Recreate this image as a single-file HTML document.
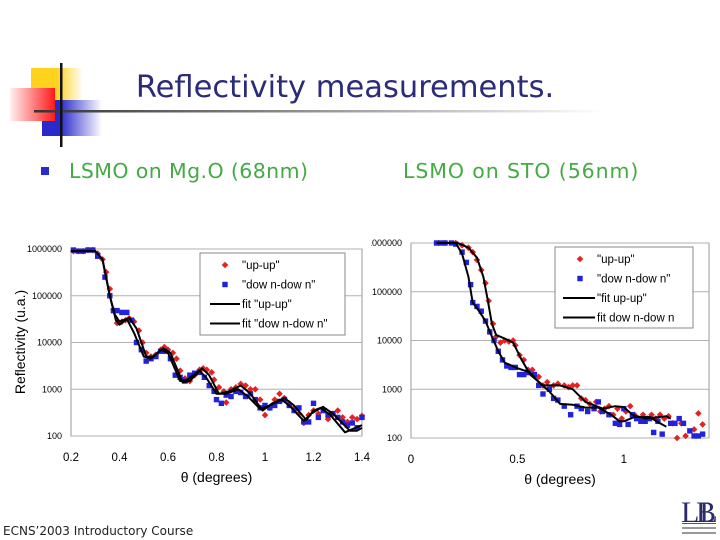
<!DOCTYPE html>
<html><head><meta charset="utf-8"><style>
html,body{margin:0;padding:0;background:#fff;}
#slide{position:relative;width:720px;height:540px;overflow:hidden;font-family:"Liberation Sans",sans-serif;}
</style></head><body>
<div id="slide">
<svg width="720" height="540" style="position:absolute;left:0;top:0">
<defs>
<linearGradient id="gy" x1="0" x2="1"><stop offset="0.5" stop-color="#ffd21e"/><stop offset="1" stop-color="#fff"/></linearGradient>
<linearGradient id="gr" x1="1" x2="0"><stop offset="0" stop-color="#ff1a1a"/><stop offset="1" stop-color="#fff0f0"/></linearGradient>
<linearGradient id="gb" x1="0" x2="1"><stop offset="0.3" stop-color="#2a2acc"/><stop offset="1" stop-color="#fff"/></linearGradient>
<linearGradient id="gl" x1="0" x2="1"><stop offset="0" stop-color="#333"/><stop offset="0.6" stop-color="#aaa"/><stop offset="1" stop-color="#fff"/></linearGradient>
<clipPath id="clipR"><rect x="371" y="230" width="349" height="260"/></clipPath>
</defs>
<g>
<rect x="31" y="68" width="52" height="34" fill="url(#gy)"/>
<rect x="42" y="100" width="60" height="36" fill="url(#gb)"/>
<rect x="10" y="88" width="45" height="33" fill="url(#gr)"/>
<rect x="34" y="110" width="570" height="2.5" fill="url(#gl)"/>
<rect x="60" y="63" width="2.5" height="84" fill="#111"/>
</g>
<text x="345" y="97" text-anchor="middle" font-family="'DejaVu Sans',sans-serif" font-size="30.5" fill="#2b2b7a">Reflectivity measurements.</text>
<rect x="41" y="167" width="8" height="8" fill="#2a2acc"/>
<text x="69" y="178" font-family="'DejaVu Sans',sans-serif" font-size="20.5" letter-spacing="0.4" fill="#44aa44">LSMO on Mg.O (68nm)</text>
<text x="403" y="178" font-family="'DejaVu Sans',sans-serif" font-size="20.5" letter-spacing="0.9" fill="#44aa44">LSMO on STO (56nm)</text>
<text x="3" y="535" font-family="'DejaVu Sans',sans-serif" font-size="12" fill="#222">ECNS’2003 Introductory Course</text>
<g>
<text x="681" y="522" font-family="'Liberation Serif',serif" font-size="30" fill="#2b2b6a">LL</text>
<text x="696" y="522" font-family="'Liberation Serif',serif" font-size="30" fill="#2b2b6a">B</text>
<rect x="682" y="523" width="34" height="1" fill="#a33"/>
<rect x="682" y="527" width="34" height="2" fill="#999"/>
<rect x="682" y="532" width="34" height="2" fill="#999"/>
</g>
<g id="chartL"></g>
<g id="chartR" clip-path="url(#clipR)"></g>
</svg>
</div>
<script>
const L_upX=[0.21,0.23,0.25,0.27,0.29,0.31,0.33,0.345,0.36,0.375,0.39,0.41,0.425,0.44,0.46,0.48,0.495,0.51,0.53,0.55,0.57,0.585,0.6,0.62,0.635,0.65,0.67,0.69,0.71,0.73,0.745,0.76,0.78,0.79,0.81,0.83,0.84,0.86,0.88,0.9,0.92,0.94,0.96,0.98,1.0,1.02,1.04,1.06,1.08,1.1,1.12,1.14,1.16,1.18,1.2,1.22,1.24,1.26,1.28,1.3,1.32,1.34,1.36,1.38,1.4];
const L_upY=[9e5,9e5,9e5,9.5e5,9.5e5,8e5,6e5,3.2e5,1.4e5,5e4,2.6e4,2.8e4,3e4,3.3e4,2.8e4,1.8e4,1e4,6e3,5e3,5.5e3,7e3,8e3,7e3,6e3,4.5e3,2.5e3,1.7e3,1.5e3,2e3,2.6e3,2.8e3,2.6e3,2.3e3,1.6e3,1.1e3,900,520,1000,1100,1300,1200,1000,1000,600,280,400,600,800,650,500,400,300,190,280,350,300,380,230,300,350,250,200,250,230,270];
const L_dnX=[0.21,0.23,0.25,0.27,0.29,0.31,0.34,0.36,0.375,0.39,0.41,0.43,0.45,0.47,0.49,0.51,0.53,0.55,0.57,0.59,0.61,0.63,0.65,0.67,0.69,0.71,0.73,0.75,0.77,0.79,0.8,0.82,0.84,0.86,0.88,0.9,0.92,0.94,0.96,0.98,1.0,1.02,1.04,1.06,1.08,1.1,1.12,1.14,1.16,1.18,1.2,1.22,1.24,1.26,1.28,1.3,1.32,1.34,1.36,1.38,1.4];
const L_dnY=[9.5e5,9e5,9e5,9.5e5,9.5e5,7e5,2.5e5,1e5,4.8e4,4.8e4,4.4e4,4.4e4,3e4,1e4,7e3,4e3,4.5e3,5e3,6.5e3,6.5e3,4.5e3,2e3,1.8e3,1.5e3,2e3,2.2e3,2.3e3,1.8e3,1.2e3,900,600,500,750,700,900,850,700,800,600,400,450,400,450,550,600,450,350,400,200,200,500,250,350,280,300,250,200,170,190,150,250];
const L_fuX=[0.2,0.3,0.33,0.36,0.385,0.4,0.44,0.47,0.51,0.54,0.58,0.61,0.66,0.69,0.74,0.77,0.81,0.85,0.9,0.94,0.99,1.03,1.08,1.12,1.17,1.2,1.24,1.28,1.35,1.38,1.4];
const L_fuY=[9e5,9e5,6e5,1e5,3e4,2.4e4,3.4e4,2e4,5e3,5e3,7.5e3,6e3,1.4e3,1.5e3,2.8e3,2e3,800,900,1200,800,350,500,650,450,220,350,420,300,130,130,150];
const L_fdX=[0.2,0.3,0.33,0.36,0.38,0.4,0.43,0.46,0.5,0.53,0.57,0.6,0.65,0.68,0.73,0.76,0.8,0.84,0.89,0.93,0.98,1.02,1.07,1.11,1.16,1.19,1.23,1.27,1.33,1.36,1.4];
const L_fdY=[9e5,9e5,6e5,1e5,4e4,2.8e4,3.2e4,1.6e4,5e3,4.5e3,7e3,6e3,1.5e3,1.6e3,2.5e3,1.7e3,800,800,1000,700,380,450,600,400,210,300,400,280,120,140,170];
const L_xTicks=["0.2","0.4","0.6","0.8","1","1.2","1.4"];
const L_xTickVals=[0.2,0.4,0.6,0.8,1,1.2,1.4];
const L_legend=['"up-up"','"dow n-dow n"','fit "up-up"','fit "dow n-dow n"'];

const R_upX=[0.13,0.16,0.21,0.24,0.27,0.29,0.31,0.33,0.35,0.365,0.385,0.4,0.42,0.44,0.46,0.48,0.49,0.51,0.53,0.55,0.57,0.6,0.62,0.64,0.67,0.69,0.72,0.74,0.76,0.78,0.8,0.82,0.84,0.87,0.89,0.91,0.93,0.95,0.97,0.99,1.01,1.03,1.05,1.07,1.09,1.11,1.13,1.15,1.17,1.19,1.21,1.23,1.25,1.27,1.29,1.33,1.35,1.37];
const R_upY=[1e6,1e6,1e6,9e5,8e5,6.5e5,4.5e5,2.8e5,1.5e5,6.5e4,2.2e4,1.2e4,9e3,1e4,9.5e3,1e4,8e3,5e3,4e3,2.5e3,2.5e3,1.8e3,1.2e3,1.4e3,1.2e3,1.3e3,1.2e3,1.1e3,1.2e3,1.2e3,650,600,500,550,350,400,450,300,400,250,350,450,300,250,300,250,300,250,300,250,280,200,100,200,110,150,320,190];
const R_dnX=[0.12,0.14,0.16,0.19,0.21,0.24,0.26,0.28,0.29,0.31,0.33,0.35,0.37,0.39,0.41,0.43,0.45,0.47,0.49,0.51,0.53,0.55,0.58,0.6,0.62,0.65,0.67,0.69,0.72,0.75,0.78,0.8,0.83,0.86,0.88,0.9,0.93,0.96,0.98,1.0,1.02,1.04,1.06,1.08,1.1,1.12,1.14,1.16,1.18,1.22,1.24,1.26,1.28,1.31,1.33,1.35,1.37];
const R_dnY=[1e6,1e6,1e6,1e6,9.5e5,6.5e5,4e5,1.4e5,6e4,5e4,4e4,2.5e4,1.5e4,1e4,6e3,4e3,3e3,2.8e3,2.8e3,2e3,2e3,2.2e3,2e3,1.2e3,800,1e3,650,600,450,300,450,400,350,400,550,350,300,200,190,400,190,300,250,220,220,250,130,220,120,200,200,250,200,140,110,110,120];
const R_fuX=[0.12,0.22,0.27,0.31,0.34,0.36,0.38,0.4,0.44,0.48,0.52,0.56,0.62,0.7,0.76,0.82,0.9,0.96,1.0,1.04,1.1,1.2,1.22];
const R_fuY=[1e6,1e6,8e5,5e5,2e5,7e4,2.2e4,1.3e4,1.1e4,9e3,4e3,2e3,1.2e3,1.2e3,1e3,550,400,450,430,300,250,280,250];
const R_fdX=[0.12,0.21,0.24,0.27,0.29,0.32,0.35,0.38,0.41,0.44,0.5,0.56,0.6,0.65,0.7,0.76,0.82,0.88,0.94,0.98,1.0,1.05,1.12,1.17,1.2];
const R_fdY=[1e6,1e6,6e5,2e5,6e4,4e4,2.5e4,1.2e4,6e3,3.5e3,2.7e3,2.2e3,1.4e3,900,500,480,420,420,300,220,220,270,270,200,170];
const R_xTicks=["0","0.5","1"];
const R_xTickVals=[0,0.5,1];
const R_legend=['"up-up"','"dow n-dow n"','"fit up-up"','fit dow n-dow n'];
const yTicks=["1000000","100000","10000","1000","100"];
const yTickVals=[1e6,1e5,1e4,1e3,100];

const NS="http://www.w3.org/2000/svg";
function mk(parent,tag,attrs,text){const e=document.createElementNS(NS,tag);for(const k in attrs)e.setAttribute(k,attrs[k]);if(text!==undefined)e.textContent=text;parent.appendChild(e);return e;}

function drawChart(g,cfg){
  const sx=v=>cfg.x0+(v-cfg.xmin)/(cfg.xmax-cfg.xmin)*(cfg.x1-cfg.x0);
  const sy=v=>cfg.y0+(6-Math.log10(v))/4*(cfg.y1-cfg.y0);
  const bg=mk(g,'rect',{x:cfg.x0,y:cfg.y0,width:cfg.x1-cfg.x0,height:cfg.y1-cfg.y0,fill:'#fff',stroke:'#999','stroke-width':1});
  
  
  yTickVals.forEach((v,i)=>{
    const gl=mk(g,'line',{x1:cfg.x0,x2:cfg.x1,y1:sy(v),y2:sy(v),stroke:'#b0b0b0','stroke-width':1});
    
    
    const t=mk(g,'text',{x:cfg.x0-9,y:sy(v)+3,'text-anchor':'end','font-size':9,fill:'#000'},yTicks[i]);
    
    
  });
  cfg.xv.forEach((v,i)=>{
    const t=mk(g,'text',{x:sx(v),y:cfg.y1+25,'text-anchor':'middle','font-size':11.5,fill:'#000'},cfg.xl[i]);
    
    
  });
  const xt=mk(g,'text',{x:(cfg.x0+cfg.x1)/2+cfg.xtOff,y:cfg.y1+46,'text-anchor':'middle','font-size':14,fill:'#000'},'θ (degrees)');
  
  
  const line=(xs,ys,name)=>{
    const d=xs.map((x,i)=>(i?'L':'M')+sx(x).toFixed(1)+','+sy(ys[i]).toFixed(1)).join(' ');
    const p=mk(g,'path',{d:d,fill:'none',stroke:'#000','stroke-width':2,'stroke-linejoin':'round'});
    
    
  };
  const diamonds=(xs,ys)=>{xs.forEach((x,i)=>{const cx=sx(x),cy=sy(ys[i]);
    const p=mk(g,'path',{d:`M${cx},${cy-3.3}L${cx+3.3},${cy}L${cx},${cy+3.3}L${cx-3.3},${cy}Z`,fill:'#e32222'});
    
    });};
  const squares=(xs,ys)=>{xs.forEach((x,i)=>{const cx=sx(x),cy=sy(ys[i]);
    const p=mk(g,'rect',{x:cx-2.7,y:cy-2.7,width:5.4,height:5.4,fill:'#2222dd'});
    
    });};
  diamonds(cfg.upX,cfg.upY);
  squares(cfg.dnX,cfg.dnY);
  line(cfg.fuX,cfg.fuY,'fit-up-up-line');
  line(cfg.fdX,cfg.fdY,'fit-down-down-line');
  const lg=mk(g,'g',{});
  
  
  const L=cfg.leg;
  mk(lg,'rect',{x:L.x,y:L.y,width:L.w,height:L.h,fill:'#fff',stroke:'#888'});
  cfg.legTxt.forEach((s,i)=>{
    const cy=L.y+12+i*19.5, mx=L.x+L.mOff;
    if(i===0)mk(lg,'path',{d:`M${mx},${cy-3.3}L${mx+3.3},${cy}L${mx},${cy+3.3}L${mx-3.3},${cy}Z`,fill:'#e32222'});
    else if(i===1)mk(lg,'rect',{x:mx-2.7,y:cy-2.7,width:5.4,height:5.4,fill:'#2222dd'});
    else mk(lg,'line',{x1:L.x+L.lx0,x2:L.x+L.lx1,y1:cy,y2:cy,stroke:'#000','stroke-width':2});
    const t=mk(lg,'text',{x:L.x+L.tx,y:cy+4,'font-size':11.5,fill:'#000'},s);
    
    
  });
}
drawChart(document.getElementById('chartL'),{x0:71,x1:362,y0:249,y1:436,xmin:0.2,xmax:1.4,xv:L_xTickVals,xl:L_xTicks,xtOff:0,
  upX:L_upX,upY:L_upY,dnX:L_dnX,dnY:L_dnY,fuX:L_fuX,fuY:L_fuY,fdX:L_fdX,fdY:L_fdY,
  leg:{x:200,y:253,w:145,h:82,mOff:25,lx0:10,lx1:40,tx:42},legTxt:L_legend});
drawChart(document.getElementById('chartR'),{x0:411,x1:709,y0:243,y1:438,xmin:0,xmax:1.4,xv:R_xTickVals,xl:R_xTicks,xtOff:0,
  upX:R_upX,upY:R_upY,dnX:R_dnX,dnY:R_dnY,fuX:R_fuX,fuY:R_fuY,fdX:R_fdX,fdY:R_fdY,
  leg:{x:555,y:247,w:138,h:81,mOff:25,lx0:8,lx1:40,tx:42},legTxt:R_legend});
const yt=document.createElementNS(NS,'text');
yt.setAttribute('transform','translate(25,342) rotate(-90)');
yt.setAttribute('text-anchor','middle');
yt.setAttribute('font-size','14');
yt.setAttribute('font-family','Liberation Sans, sans-serif');
yt.textContent='Reflectivity (u.a.)';


document.getElementById('chartL').appendChild(yt);
</script>
</body></html>
